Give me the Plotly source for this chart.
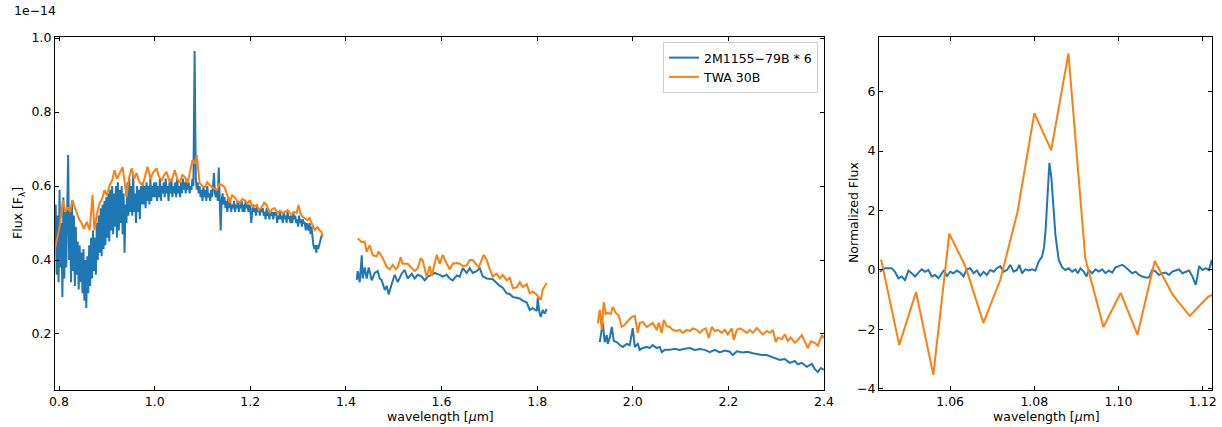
import plotly.graph_objects as go

# ---------------- data (flux in units of 1e-14) ----------------
# 2M1155-79B * 6 : J segment (dense, noisy)
b_j_wl = [
    0.791, 0.793, 0.795, 0.797, 0.799, 0.801, 0.803, 0.805, 0.807, 0.809,
    0.811, 0.813, 0.815, 0.817, 0.819, 0.821, 0.823, 0.825, 0.827, 0.829,
    0.831, 0.833, 0.835, 0.837, 0.839, 0.841, 0.843, 0.845, 0.847, 0.849,
    0.851, 0.853, 0.855, 0.857, 0.859, 0.861, 0.863, 0.865, 0.867, 0.869,
    0.871, 0.873, 0.875, 0.877, 0.879, 0.881, 0.883, 0.885, 0.887, 0.889,
    0.891, 0.893, 0.895, 0.897, 0.899, 0.901, 0.903, 0.905, 0.907, 0.909,
    0.911, 0.913, 0.915, 0.917, 0.919, 0.921, 0.923, 0.925, 0.927, 0.929,
    0.931, 0.933, 0.935, 0.937, 0.939, 0.941, 0.943, 0.945, 0.947, 0.949,
    0.951, 0.953, 0.955, 0.957, 0.959, 0.961, 0.963, 0.965, 0.967, 0.969,
    0.971, 0.973, 0.975, 0.977, 0.979, 0.981, 0.983, 0.985, 0.987, 0.989,
    0.991, 0.993, 0.995, 0.997, 0.999, 1.001, 1.003, 1.005, 1.007, 1.009,
    1.011, 1.013, 1.015, 1.017, 1.019, 1.021, 1.023, 1.025, 1.027, 1.029,
    1.031, 1.033, 1.035, 1.037, 1.039, 1.041, 1.043, 1.045, 1.047, 1.049,
    1.051, 1.053, 1.055, 1.057, 1.059, 1.061, 1.063, 1.065, 1.067, 1.069,
    1.071, 1.073, 1.075, 1.077, 1.079, 1.081, 1.0835,
    1.086, 1.088, 1.090, 1.092, 1.094, 1.096, 1.098, 1.100, 1.102, 1.104,
    1.106, 1.108, 1.110, 1.112, 1.114, 1.116, 1.118, 1.120, 1.122, 1.124,
    1.126, 1.128, 1.130, 1.132, 1.134, 1.136, 1.138, 1.140, 1.142, 1.144,
    1.146, 1.148, 1.150, 1.152, 1.154, 1.156, 1.158, 1.160, 1.162, 1.164,
    1.166, 1.168, 1.170, 1.172, 1.174, 1.176, 1.178, 1.180, 1.182, 1.184,
    1.186, 1.188, 1.190, 1.192, 1.194, 1.196, 1.198, 1.200, 1.202, 1.204,
    1.206, 1.208, 1.210, 1.212, 1.214, 1.216, 1.218, 1.220, 1.222, 1.224,
    1.226, 1.228, 1.230, 1.232, 1.234, 1.236, 1.238, 1.240, 1.242, 1.244,
    1.246, 1.248, 1.250, 1.252, 1.254, 1.256, 1.258, 1.260, 1.262, 1.264,
    1.266, 1.268, 1.270, 1.272, 1.274, 1.276, 1.278, 1.280, 1.282, 1.284,
    1.286, 1.288, 1.290, 1.292, 1.294, 1.296, 1.298, 1.300, 1.302, 1.304,
    1.306, 1.308, 1.310, 1.312, 1.314, 1.316, 1.318, 1.320, 1.322, 1.324,
    1.326, 1.328, 1.330, 1.332, 1.334, 1.336, 1.338, 1.340, 1.342, 1.344,
    1.346, 1.348, 1.350]
b_j_fx = [
    0.43, 0.55, 0.36, 0.52, 0.34, 0.59, 0.38, 0.50, 0.30, 0.57,
    0.35, 0.53, 0.38, 0.55, 0.684, 0.40, 0.54, 0.34, 0.56, 0.37,
    0.52, 0.33, 0.49, 0.36, 0.45, 0.32, 0.44, 0.34, 0.42, 0.31,
    0.43, 0.29, 0.40, 0.27, 0.41, 0.31, 0.44, 0.33, 0.46, 0.35,
    0.48, 0.37, 0.46, 0.36, 0.50, 0.40, 0.52, 0.42, 0.54, 0.41,
    0.55, 0.43, 0.56, 0.44, 0.57, 0.46, 0.58, 0.45, 0.59, 0.48,
    0.60, 0.47, 0.58, 0.49, 0.60, 0.46, 0.61, 0.48, 0.59, 0.50,
    0.60, 0.47, 0.58, 0.42, 0.55, 0.50, 0.61, 0.52, 0.62, 0.53,
    0.60, 0.52, 0.63, 0.53, 0.58, 0.50, 0.60, 0.53, 0.59, 0.51,
    0.60, 0.55, 0.61, 0.55, 0.60, 0.54, 0.61, 0.56, 0.60, 0.55,
    0.62, 0.56, 0.60, 0.57, 0.61, 0.57, 0.61, 0.56, 0.60, 0.57,
    0.62, 0.56, 0.60, 0.58, 0.61, 0.57, 0.62, 0.58, 0.60, 0.56,
    0.61, 0.58, 0.62, 0.57, 0.60, 0.58, 0.61, 0.57, 0.62, 0.58,
    0.60, 0.57, 0.61, 0.58, 0.62, 0.59, 0.61, 0.58, 0.62, 0.59,
    0.61, 0.58, 0.60, 0.59, 0.62, 0.60, 0.965,
    0.62, 0.59, 0.61, 0.58, 0.60, 0.57, 0.59, 0.56, 0.60, 0.57,
    0.59, 0.56, 0.60, 0.57, 0.58, 0.56, 0.59, 0.57, 0.60, 0.635,
    0.58, 0.57, 0.59, 0.56, 0.65, 0.55, 0.48, 0.56, 0.58, 0.55,
    0.57, 0.54, 0.56, 0.53, 0.57, 0.54, 0.56, 0.53, 0.55, 0.54,
    0.56, 0.53, 0.55, 0.54, 0.56, 0.53, 0.55, 0.54, 0.56, 0.53,
    0.55, 0.53, 0.56, 0.54, 0.55, 0.53, 0.55, 0.54, 0.50, 0.53,
    0.55, 0.53, 0.54, 0.52, 0.55, 0.53, 0.54, 0.52, 0.54, 0.53,
    0.54, 0.52, 0.53, 0.51, 0.54, 0.52, 0.53, 0.51, 0.53, 0.52,
    0.53, 0.51, 0.53, 0.52, 0.53, 0.50, 0.52, 0.51, 0.53, 0.51,
    0.52, 0.50, 0.53, 0.51, 0.52, 0.50, 0.53, 0.51, 0.52, 0.50,
    0.52, 0.50, 0.53, 0.51, 0.52, 0.50, 0.51, 0.49, 0.52, 0.50,
    0.51, 0.49, 0.51, 0.50, 0.50, 0.48, 0.50, 0.49, 0.48, 0.50,
    0.47, 0.49, 0.46, 0.44, 0.43, 0.44, 0.42, 0.44, 0.43, 0.44,
    0.45, 0.46, 0.47]

# 2M1155-79B * 6 : H segment
b_h_wl = [1.4226, 1.4247, 1.4289, 1.4331, 1.4351, 1.4393, 1.4435, 1.4477, 1.4540, 1.4603, 1.4665, 1.4707,
          1.4749, 1.4812, 1.4854, 1.4895, 1.4958, 1.5021, 1.5084, 1.5167, 1.5230, 1.5293, 1.5377, 1.5439,
          1.5502, 1.5586, 1.5649, 1.5711, 1.5795, 1.5858, 1.5962, 1.6025, 1.6109, 1.6172, 1.6234, 1.6318,
          1.6381, 1.6444, 1.6527, 1.6590, 1.6653, 1.6736, 1.6799, 1.6862, 1.6946, 1.7008, 1.7071, 1.7155,
          1.7218, 1.7280, 1.7364, 1.7427, 1.7490, 1.7573, 1.7636, 1.7699, 1.7782, 1.7845, 1.7908, 1.7992,
          1.8013, 1.8044, 1.8075, 1.8117, 1.8159, 1.8201]
b_h_fx = [0.346, 0.37, 0.34, 0.413, 0.35, 0.38, 0.35, 0.38, 0.345, 0.365, 0.37, 0.35,
          0.345, 0.319, 0.33, 0.307, 0.335, 0.36, 0.34, 0.363, 0.373, 0.35, 0.363, 0.35,
          0.36, 0.355, 0.345, 0.355, 0.36, 0.365, 0.36, 0.355, 0.36, 0.35, 0.345, 0.358,
          0.355, 0.378, 0.365, 0.378, 0.365, 0.37, 0.378, 0.356, 0.35, 0.35, 0.348, 0.338,
          0.33, 0.325, 0.31, 0.308, 0.30, 0.298, 0.296, 0.29, 0.285, 0.265, 0.27, 0.262,
          0.297, 0.26, 0.246, 0.265, 0.255, 0.268]

# 2M1155-79B * 6 : K segment
b_k_wl = [1.9310, 1.9372, 1.9414, 1.9456, 1.9477, 1.9519, 1.9561, 1.9603, 1.9665, 1.9728, 1.9791, 1.9874,
          1.9937, 2.0000, 2.0042, 2.0105, 2.0146, 2.0209, 2.0293, 2.0356, 2.0418, 2.0502, 2.0565, 2.0607,
          2.0669, 2.0774, 2.0879, 2.0983, 2.1088, 2.1192, 2.1297, 2.1402, 2.1506, 2.1611, 2.1715, 2.1820,
          2.1925, 2.2029, 2.2092, 2.2176, 2.2301, 2.2406, 2.2510, 2.2594, 2.2699, 2.2803, 2.2866, 2.2971,
          2.3075, 2.3180, 2.3285, 2.3389, 2.3452, 2.3536, 2.3640, 2.3745, 2.3808, 2.3870, 2.3933, 2.3996]
b_k_fx = [0.178, 0.23, 0.178, 0.197, 0.173, 0.19, 0.219, 0.181, 0.178, 0.17, 0.165, 0.173,
          0.17, 0.216, 0.165, 0.173, 0.157, 0.162, 0.165, 0.162, 0.17, 0.162, 0.165, 0.151,
          0.157, 0.157, 0.16, 0.157, 0.16, 0.162, 0.157, 0.159, 0.157, 0.151, 0.157, 0.15,
          0.155, 0.152, 0.143, 0.153, 0.15, 0.152, 0.148, 0.146, 0.143, 0.143, 0.14, 0.135,
          0.13, 0.132, 0.122, 0.127, 0.118, 0.122, 0.111, 0.119, 0.105, 0.097, 0.108, 0.103]

# TWA 30B : J segment
o_j_wl = [0.791, 0.801, 0.804, 0.808, 0.813, 0.818, 0.823, 0.828, 0.832, 0.837, 0.842, 0.847, 0.852,
          0.858, 0.864, 0.870, 0.874, 0.880, 0.885, 0.890, 0.895, 0.900, 0.906, 0.911, 0.916, 0.921,
          0.927, 0.933, 0.941, 0.946, 0.952, 0.957, 0.962, 0.968, 0.975, 0.980, 0.985, 0.991, 0.996,
          1.004, 1.009, 1.015, 1.020, 1.025, 1.031, 1.036, 1.042, 1.047, 1.052, 1.058, 1.063, 1.069,
          1.074, 1.079, 1.084, 1.088, 1.094, 1.100, 1.105, 1.110, 1.115, 1.122, 1.130, 1.135, 1.140,
          1.146, 1.152, 1.157, 1.162, 1.167, 1.172, 1.178, 1.183, 1.188, 1.194, 1.199, 1.205, 1.213,
          1.218, 1.224, 1.229, 1.234, 1.241, 1.246, 1.251, 1.257, 1.262, 1.268, 1.273, 1.278, 1.282,
          1.287, 1.292, 1.297, 1.301, 1.305, 1.310, 1.315, 1.320, 1.324, 1.328, 1.335, 1.341, 1.345,
          1.349, 1.351]
o_j_fx = [0.427, 0.489, 0.520, 0.562, 0.530, 0.543, 0.530, 0.562, 0.545, 0.527, 0.510, 0.500, 0.485,
          0.503, 0.481, 0.576, 0.480, 0.530, 0.554, 0.565, 0.589, 0.575, 0.603, 0.615, 0.643, 0.620,
          0.635, 0.651, 0.570, 0.620, 0.648, 0.620, 0.635, 0.610, 0.603, 0.630, 0.652, 0.620, 0.635,
          0.648, 0.625, 0.616, 0.630, 0.638, 0.612, 0.616, 0.643, 0.620, 0.608, 0.630, 0.625, 0.608,
          0.640, 0.670, 0.660, 0.684, 0.608, 0.600, 0.597, 0.610, 0.603, 0.595, 0.589, 0.605, 0.603,
          0.597, 0.575, 0.554, 0.575, 0.570, 0.560, 0.554, 0.565, 0.562, 0.552, 0.562, 0.543, 0.549,
          0.535, 0.543, 0.555, 0.549, 0.527, 0.538, 0.540, 0.527, 0.533, 0.527, 0.530, 0.535, 0.528,
          0.522, 0.530, 0.527, 0.549, 0.525, 0.516, 0.512, 0.508, 0.515, 0.500, 0.481, 0.489, 0.480,
          0.476, 0.462]

# TWA 30B : H segment
o_h_wl = [1.4247, 1.4331, 1.4393, 1.4435, 1.4498, 1.4561, 1.4644, 1.4686, 1.4770, 1.4854, 1.4916, 1.4979,
          1.5042, 1.5084, 1.5146, 1.5188, 1.5293, 1.5377, 1.5439, 1.5502, 1.5565, 1.5607, 1.5690, 1.5753,
          1.5795, 1.5858, 1.5900, 1.5962, 1.6025, 1.6109, 1.6172, 1.6234, 1.6318, 1.6381, 1.6444, 1.6527,
          1.6590, 1.6653, 1.6715, 1.6778, 1.6883, 1.6946, 1.7008, 1.7071, 1.7155, 1.7218, 1.7280, 1.7364,
          1.7427, 1.7490, 1.7573, 1.7636, 1.7699, 1.7782, 1.7845, 1.7908, 1.7992, 1.8075, 1.8117, 1.8201]
o_h_fx = [0.459, 0.448, 0.450, 0.422, 0.440, 0.413, 0.410, 0.423, 0.405, 0.381, 0.375, 0.387,
          0.375, 0.380, 0.408, 0.390, 0.390, 0.378, 0.370, 0.378, 0.405, 0.398, 0.354, 0.384,
          0.357, 0.392, 0.414, 0.390, 0.414, 0.390, 0.375, 0.390, 0.392, 0.390, 0.384, 0.385,
          0.400, 0.400, 0.390, 0.380, 0.414, 0.400, 0.375, 0.355, 0.363, 0.350, 0.360, 0.345,
          0.352, 0.324, 0.326, 0.340, 0.327, 0.335, 0.310, 0.315, 0.306, 0.292, 0.320, 0.338]

# TWA 30B : K segment
o_k_wl = [1.9268, 1.9310, 1.9351, 1.9393, 1.9435, 1.9477, 1.9540, 1.9582, 1.9644, 1.9707, 1.9770, 1.9833,
          1.9895, 1.9979, 2.0042, 2.0105, 2.0146, 2.0209, 2.0293, 2.0356, 2.0418, 2.0502, 2.0544, 2.0607,
          2.0649, 2.0711, 2.0774, 2.0837, 2.0921, 2.0983, 2.1046, 2.1130, 2.1192, 2.1255, 2.1339, 2.1402,
          2.1464, 2.1527, 2.1590, 2.1653, 2.1715, 2.1778, 2.1862, 2.1925, 2.1987, 2.2071, 2.2113, 2.2176,
          2.2238, 2.2301, 2.2385, 2.2448, 2.2510, 2.2594, 2.2657, 2.2720, 2.2803, 2.2866, 2.2929, 2.2992,
          2.3033, 2.3117, 2.3180, 2.3243, 2.3305, 2.3389, 2.3452, 2.3536, 2.3598, 2.3661, 2.3724, 2.3808,
          2.3870, 2.3954, 2.3996]
o_k_fx = [0.229, 0.265, 0.211, 0.286, 0.254, 0.257, 0.254, 0.273, 0.257, 0.250, 0.219, 0.225,
          0.235, 0.246, 0.249, 0.203, 0.230, 0.232, 0.219, 0.225, 0.230, 0.211, 0.230, 0.203,
          0.238, 0.222, 0.219, 0.211, 0.208, 0.211, 0.203, 0.211, 0.208, 0.215, 0.211, 0.203,
          0.211, 0.215, 0.189, 0.219, 0.208, 0.211, 0.203, 0.211, 0.199, 0.215, 0.184, 0.211,
          0.215, 0.211, 0.203, 0.211, 0.203, 0.216, 0.208, 0.199, 0.208, 0.203, 0.211, 0.178,
          0.190, 0.186, 0.199, 0.181, 0.190, 0.176, 0.184, 0.197, 0.180, 0.162, 0.180, 0.176,
          0.168, 0.197, 0.189]

# Zoom panel (normalized flux around 1.083 micron)
zb_wl = [1.04333, 1.04452, 1.04611, 1.04690, 1.04770, 1.04849, 1.04929, 1.05008, 1.05087, 1.05167,
         1.05246, 1.05325, 1.05405, 1.05484, 1.05563, 1.05643, 1.05722, 1.05802, 1.05857, 1.05921,
         1.06000, 1.06079, 1.06159, 1.06238, 1.06317, 1.06397, 1.06476, 1.06556, 1.06635, 1.06714,
         1.06794, 1.06873, 1.06952, 1.07032, 1.07111, 1.07190, 1.07270, 1.07349, 1.07429, 1.07508,
         1.07587, 1.07643, 1.07706, 1.07786, 1.07865, 1.07944, 1.08024, 1.08103, 1.08183, 1.08230,
         1.08270, 1.08310, 1.08357, 1.08405, 1.08452, 1.08500, 1.08540, 1.08580, 1.08659, 1.08738,
         1.08817, 1.08897, 1.08976, 1.09032, 1.09095, 1.09175, 1.09238, 1.09294, 1.09373, 1.09452,
         1.09532, 1.09611, 1.09690, 1.09770, 1.09849, 1.09929, 1.10008, 1.10087, 1.10167, 1.10246,
         1.10325, 1.10405, 1.10484, 1.10563, 1.10643, 1.10722, 1.10802, 1.10881, 1.10960, 1.11040,
         1.11119, 1.11198, 1.11278, 1.11357, 1.11437, 1.11516, 1.11595, 1.11675, 1.11754, 1.11833,
         1.11873, 1.11913, 1.11992, 1.12071, 1.12151, 1.12214, 1.12270, 1.12350]
zb_fx = [-0.06, 0.06, 0.06, -0.06, -0.28, -0.22, -0.34, -0.02, -0.11, -0.22,
         -0.09, 0.02, -0.06, 0.0, -0.22, -0.17, -0.28, -0.11, 0.0, -0.22,
         -0.06, -0.11, -0.02, -0.09, -0.22, 0.02, 0.06, -0.11, -0.02, -0.20,
         -0.06, -0.17, 0.0, -0.06, 0.06, 0.13, -0.06, 0.0, 0.17, -0.06,
         0.0, 0.17, -0.11, 0.02, -0.02, 0.02, -0.02, 0.28, 0.45, 0.75,
         1.4, 2.4, 3.6, 3.1, 2.0, 1.2, 0.75, 0.34, 0.09, 0.0,
         0.056, -0.056, 0.02, -0.11, 0.056, -0.056, -0.22, 0.0, -0.11, 0.02,
         -0.056, 0.02, -0.11, -0.02, -0.09, 0.09, 0.13, 0.17, 0.09, 0.0,
         -0.11, -0.056, -0.17, -0.22, -0.25, -0.25, 0.0, -0.056, -0.17, -0.11,
         -0.09, -0.17, -0.056, -0.02, 0.02, -0.11, -0.056, -0.02, -0.22, -0.50,
         -0.22, 0.13, 0.0, 0.056, 0.0, 0.34, -0.10, 0.05]

zo_wl = [1.0436, 1.0479, 1.0519, 1.0560, 1.0598, 1.0636, 1.0679, 1.0719, 1.0760, 1.0800, 1.0840,
         1.0881, 1.0921, 1.0964, 1.1005, 1.1045, 1.1086, 1.1129, 1.1169, 1.1212, 1.1252]
zo_fx = [0.35, -2.52, -0.74, -3.53, 1.22, 0.13, -1.78, -0.34, 1.95, 5.28, 4.03,
         7.29, 0.40, -1.92, -0.77, -2.18, 0.30, -0.84, -1.55, -0.91, -0.62]

main_xticks = [0.8, 1.0, 1.2, 1.4, 1.6, 1.8, 2.0, 2.2, 2.4]
main_yticks = [0.2, 0.4, 0.6, 0.8, 1.0]
zoom_xticks = [1.06, 1.08, 1.10, 1.12]
zoom_yticks = [-4, -2, 0, 2, 4, 6]

BLUE = "#1f77b4"
ORANGE = "#ff7f0e"
FONT = "DejaVu Sans"
FS = 12.5


def join(*segs):
    xs, ys = [], []
    for i, (sx, sy) in enumerate(segs):
        if i:
            xs.append(None)
            ys.append(None)
        xs += list(sx)
        ys += list(sy)
    return xs, ys


bx, by = join((b_j_wl, b_j_fx), (b_h_wl, b_h_fx), (b_k_wl, b_k_fx))
ox, oy = join((o_j_wl, o_j_fx), (o_h_wl, o_h_fx), (o_k_wl, o_k_fx))

fig = go.Figure()
fig.add_trace(go.Scatter(x=bx, y=by, mode="lines", name="2M1155−79B * 6",
                         line=dict(color=BLUE, width=2), connectgaps=False, xaxis="x", yaxis="y"))
fig.add_trace(go.Scatter(x=ox, y=oy, mode="lines", name="TWA 30B",
                         line=dict(color=ORANGE, width=2), connectgaps=False, xaxis="x", yaxis="y"))
fig.add_trace(go.Scatter(x=zb_wl, y=zb_fx, mode="lines", showlegend=False,
                         line=dict(color=BLUE, width=2), xaxis="x2", yaxis="y2"))
fig.add_trace(go.Scatter(x=zo_wl, y=zo_fx, mode="lines", showlegend=False,
                         line=dict(color=ORANGE, width=2), xaxis="x2", yaxis="y2"))

ax_common = dict(showline=True, linecolor="black", linewidth=1, mirror="ticks", ticks="inside",
                 ticklen=4, tickwidth=1, tickcolor="black", showgrid=False, zeroline=False,
                 automargin=False, tickfont=dict(family=FONT, size=FS, color="black"))

ydom = [1 - 390 / 427, 1 - 37 / 427]
fig.update_layout(
    width=1222, height=427,
    margin=dict(l=0, r=0, t=0, b=0, pad=0, autoexpand=False),
    paper_bgcolor="white", plot_bgcolor="white",
    font=dict(family=FONT, size=FS, color="black"),
    xaxis=dict(domain=[55 / 1222, 824 / 1222], range=[0.7915, 2.4], tickvals=main_xticks,
               tickformat=".1f", anchor="y", **ax_common),
    yaxis=dict(domain=ydom, range=[0.0485, 1.003], tickvals=main_yticks, tickformat=".1f",
               anchor="x", **ax_common),
    xaxis2=dict(domain=[879 / 1222, 1212 / 1222], range=[1.0431, 1.1222], tickvals=zoom_xticks,
                tickformat=".2f", anchor="y2", **ax_common),
    yaxis2=dict(domain=ydom, range=[-4.04, 7.84], tickvals=zoom_yticks, tickformat="d",
                anchor="x2", **ax_common),
    legend=dict(x=818 / 1222, y=1 - 42 / 427, xanchor="right", yanchor="top",
                bgcolor="rgba(255,255,255,0.8)", bordercolor="#cccccc", borderwidth=1,
                font=dict(family=FONT, size=FS, color="black"), tracegroupgap=0),
    annotations=[
        dict(text="1e−14", x=12 / 1222, y=1 - 10 / 427, xref="paper", yref="paper",
             xanchor="left", yanchor="middle", showarrow=False, font=dict(family=FONT, size=FS)),
        dict(text="Flux [F<sub>λ</sub>]", x=18 / 1222, y=1 - 213 / 427, xref="paper", yref="paper",
             xanchor="center", yanchor="middle", textangle=-90, showarrow=False,
             font=dict(family=FONT, size=FS)),
        dict(text="wavelength [<i>μ</i>m]", x=440 / 1222, y=1 - 416 / 427, xref="paper", yref="paper",
             xanchor="center", yanchor="middle", showarrow=False, font=dict(family=FONT, size=FS)),
        dict(text="Normalized Flux", x=853 / 1222, y=1 - 213 / 427, xref="paper", yref="paper",
             xanchor="center", yanchor="middle", textangle=-90, showarrow=False,
             font=dict(family=FONT, size=FS)),
        dict(text="wavelength [<i>μ</i>m]", x=1046 / 1222, y=1 - 416 / 427, xref="paper", yref="paper",
             xanchor="center", yanchor="middle", showarrow=False, font=dict(family=FONT, size=FS)),
    ],
)

fig.write_html("out.html")
